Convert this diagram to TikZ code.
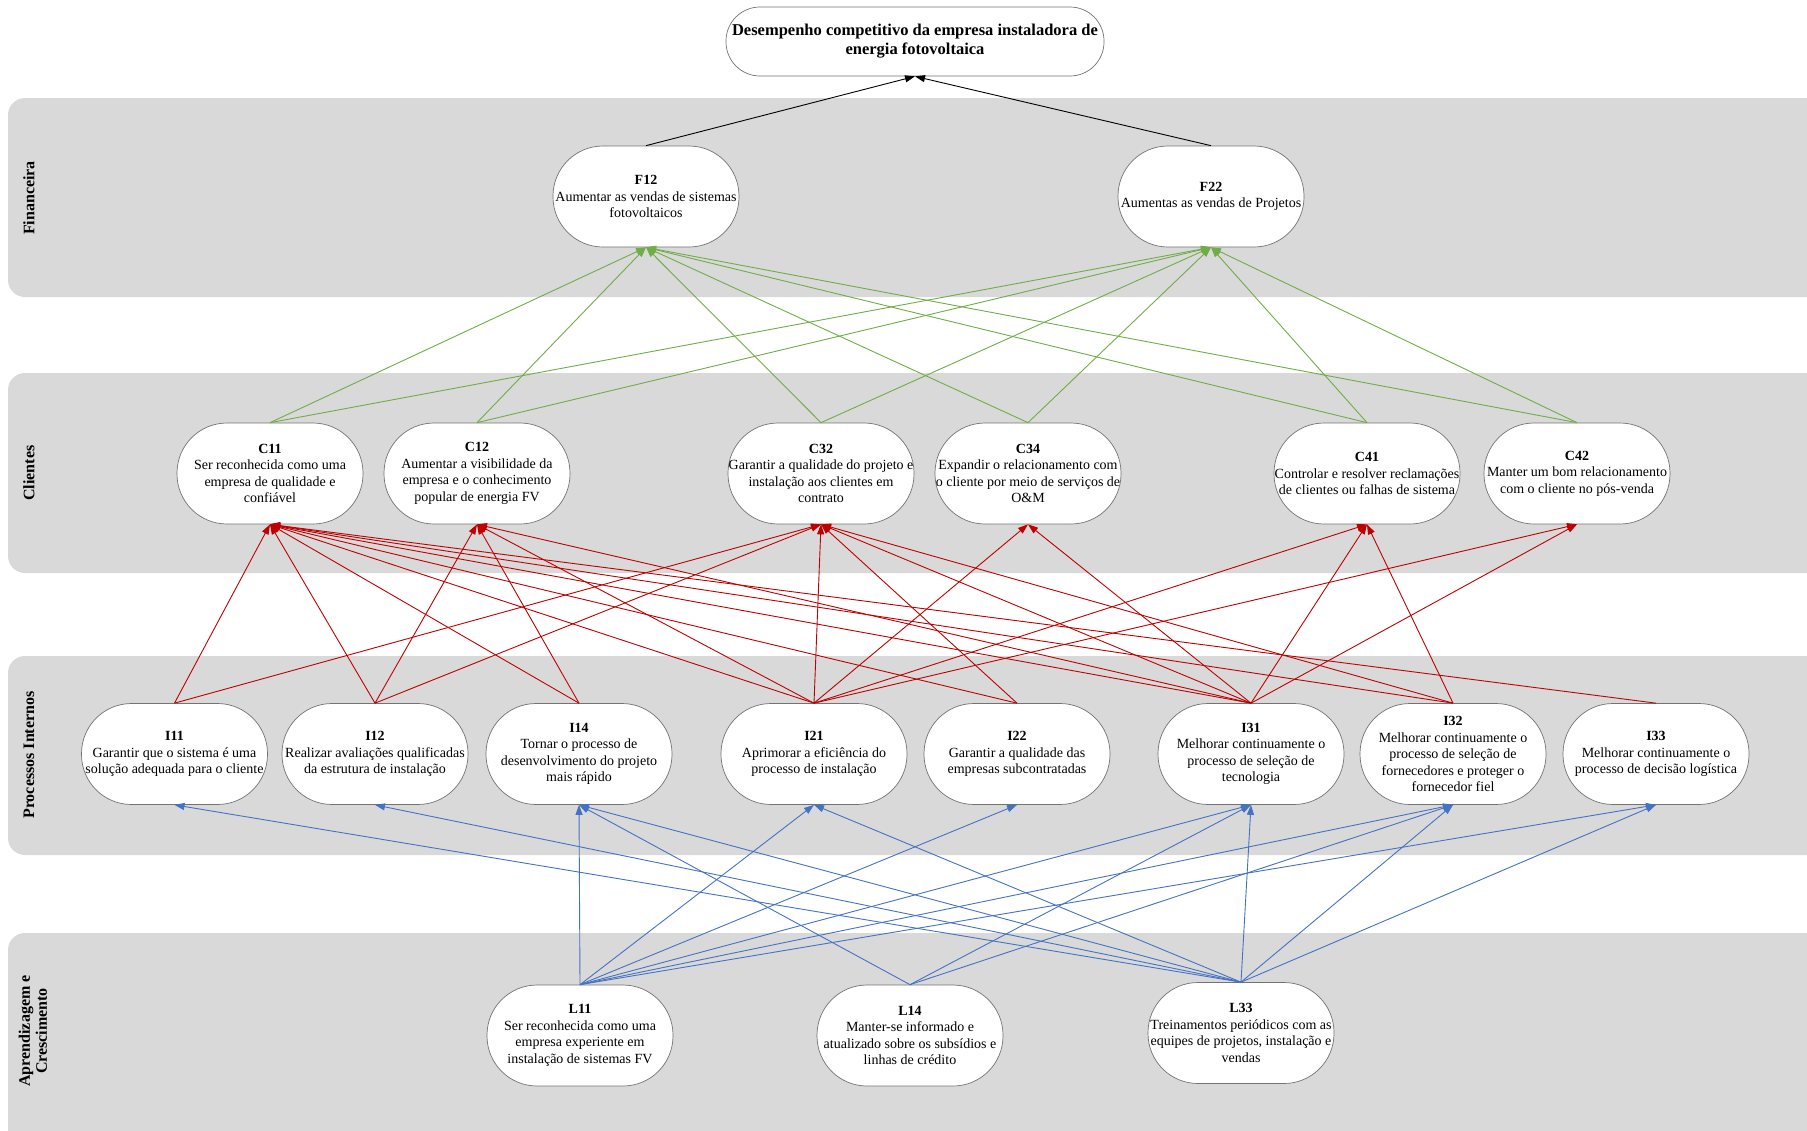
\documentclass[tikz,border=0pt]{standalone}
\usepackage{fontspec}
\setmainfont{Liberation Serif}
\usetikzlibrary{arrows.meta}
\definecolor{bandgray}{HTML}{D9D9D9}
\definecolor{fingreen}{HTML}{70AD47}
\definecolor{procred}{HTML}{C00000}
\definecolor{learnblue}{HTML}{4472C4}
\begin{document}
\begin{tikzpicture}[x=1pt,y=-1pt,
  obj/.style={draw=black!55, fill=white, rounded corners=50pt,
    minimum width=186pt, minimum height=101pt, inner sep=0pt, align=center,
    font=\fontsize{14}{16.5}\selectfont, line width=0.7pt},
  band/.style={fill=bandgray, rounded corners=17pt},
  bandlabel/.style={rotate=90, font=\fontsize{16}{17}\selectfont\bfseries, align=center},
  link/.style={-{Triangle[length=10pt,width=7pt]}, line width=0.9pt},
  fin/.style={link, fingreen},
  proc/.style={link, procred},
  learn/.style={link, learnblue}
]
\useasboundingbox (0,0) rectangle (1807,1130);

% perspective bands
\fill[band] (8,98) rectangle (1845,297);
\fill[band] (8,373) rectangle (1845,573);
\fill[band] (8,656) rectangle (1845,855);
\fill[band] (8,933) rectangle (1845,1160);

\node[bandlabel] (lblF) at (29,198) {Financeira};
\node[bandlabel] (lblC) at (29,473) {Clientes};
\node[bandlabel] (lblP) at (29,755) {Processos Internos};
\node[bandlabel] (lblL) at (33,1031) {Aprendizagem e\\Crescimento};

% goal
\node[obj, minimum width=378pt, minimum height=69pt, rounded corners=34pt,
  font=\fontsize{16.5}{19}\selectfont\bfseries] (goal) at (915,41.5)
  {Desempenho competitivo da empresa instaladora de\\energia fotovoltaica};

% financial objectives
\node[obj] (F12) at (646,196.5) {\textbf{F12}\\Aumentar as vendas de sistemas\\fotovoltaicos};
\node[obj] (F22) at (1211,196.5) {\textbf{F22}\\Aumentas as vendas de Projetos};

% customer objectives
\node[obj] (C11) at (270,473.5) {\textbf{C11}\\Ser reconhecida como uma\\empresa de qualidade e\\confiável};
\node[obj] (C12) at (477,473.5) {\textbf{C12}\\Aumentar a visibilidade da\\empresa e o conhecimento\\popular de energia FV};
\node[obj] (C32) at (821,473.5) {\textbf{C32}\\Garantir a qualidade do projeto e\\instalação aos clientes em\\contrato};
\node[obj] (C34) at (1028,473.5) {\textbf{C34}\\Expandir o relacionamento com\\o cliente por meio de serviços de\\O\&M};
\node[obj] (C41) at (1367,473.5) {\textbf{C41}\\Controlar e resolver reclamações\\de clientes ou falhas de sistema};
\node[obj] (C42) at (1577,473.5) {\textbf{C42}\\Manter um bom relacionamento\\com o cliente no pós-venda};

% internal process objectives
\node[obj] (I11) at (174.5,754) {\textbf{I11}\\Garantir que o sistema é uma\\solução adequada para o cliente};
\node[obj] (I12) at (375,754) {\textbf{I12}\\Realizar avaliações qualificadas\\da estrutura de instalação};
\node[obj] (I14) at (579,754) {\textbf{I14}\\Tornar o processo de\\desenvolvimento do projeto\\mais rápido};
\node[obj] (I21) at (814,754) {\textbf{I21}\\Aprimorar a eficiência do\\processo de instalação};
\node[obj] (I22) at (1017,754) {\textbf{I22}\\Garantir a qualidade das\\empresas subcontratadas};
\node[obj] (I31) at (1251,754) {\textbf{I31}\\Melhorar continuamente o\\processo de seleção de\\tecnologia};
\node[obj] (I32) at (1453,754) {\textbf{I32}\\Melhorar continuamente o\\processo de seleção de\\fornecedores e proteger o\\fornecedor fiel};
\node[obj] (I33) at (1656,754) {\textbf{I33}\\Melhorar continuamente o\\processo de decisão logística};

% learning and growth objectives
\node[obj] (L11) at (580,1035.5) {\textbf{L11}\\Ser reconhecida como uma\\empresa experiente em\\instalação de sistemas FV};
\node[obj] (L14) at (910,1035.5) {\textbf{L14}\\Manter-se informado e\\atualizado sobre os subsídios e\\linhas de crédito};
\node[obj] (L33) at (1241,1033) {\textbf{L33}\\Treinamentos periódicos com as\\equipes de projetos, instalação e\\vendas};

% financial -> goal
\draw[link, black] (F12.north) -- (goal.south);
\draw[link, black] (F22.north) -- (goal.south);

% customers -> financial
\foreach \c in {C11,C12,C32,C34,C41,C42} {
  \draw[fin] (\c.north) -- (F12.south);
  \draw[fin] (\c.north) -- (F22.south);
}

% internal processes -> customers
\foreach \s/\t in {I11/C11, I11/C32,
  I12/C11, I12/C12, I12/C32,
  I14/C11, I14/C12,
  I21/C11, I21/C12, I21/C32, I21/C34, I21/C41, I21/C42,
  I22/C11, I22/C32,
  I31/C11, I31/C12, I31/C32, I31/C34, I31/C41, I31/C42,
  I32/C11, I32/C32, I32/C41,
  I33/C11} {
  \draw[proc] (\s.north) -- (\t.south);
}

% learning -> internal processes
\foreach \s/\t in {L11/I14, L11/I21, L11/I22, L11/I31, L11/I32, L11/I33,
  L14/I14, L14/I31, L14/I32,
  L33/I11, L33/I12, L33/I14, L33/I21, L33/I31, L33/I32, L33/I33} {
  \draw[learn] (\s.north) -- (\t.south);
}
\end{tikzpicture}
\end{document}
